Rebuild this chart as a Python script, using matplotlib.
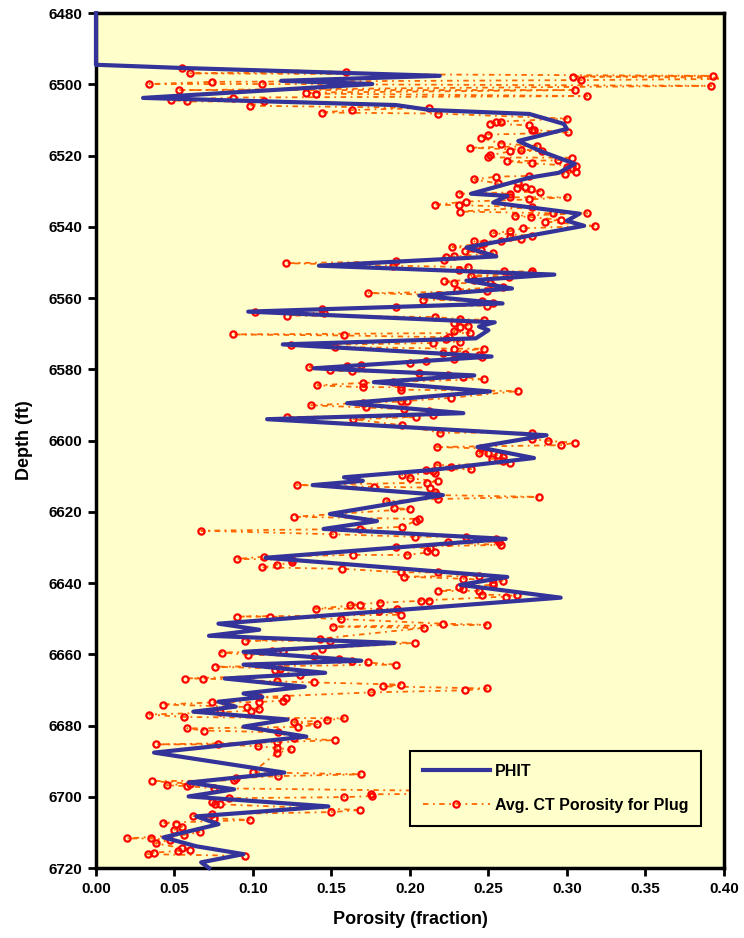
import matplotlib
matplotlib.use("Agg")
import matplotlib.pyplot as plt
import numpy as np

plt.rcParams['font.family'] = ['Liberation Sans', 'DejaVu Sans']
plt.rcParams['font.weight'] = 'bold'

# PHIT log (depth ft, porosity fraction)
phit_depth = [6480.0, 6494.5, 6495.4, 6497.6, 6499.0, 6499.9, 6503.8, 6505.8, 6507.2, 6508.3,
              6511.1, 6512.5, 6515.9, 6518.7, 6522.3, 6524.8, 6526.2, 6530.7, 6531.3, 6533.2,
              6536.3, 6538.3, 6539.7, 6542.5, 6545.8, 6548.3, 6550.9, 6553.4, 6555.1, 6557.3,
              6559.3, 6561.5, 6563.8, 6566.8, 6568.0, 6569.0, 6571.3, 6573.0, 6576.4, 6579.7,
              6581.7, 6583.6, 6586.2, 6589.5, 6592.3, 6594.0, 6598.5, 6601.8, 6604.9, 6608.3,
              6610.3, 6611.3, 6612.5, 6615.3, 6620.6, 6622.6, 6624.8, 6627.6, 6632.9, 6638.3,
              6640.5, 6644.1, 6651.4, 6653.1, 6654.8, 6656.8, 6659.3, 6661.8, 6662.9, 6665.2,
              6666.8, 6669.1, 6671.0, 6672.0, 6673.3, 6674.7, 6676.1, 6678.3, 6680.3, 6683.1,
              6687.6, 6693.2, 6696.0, 6697.9, 6699.9, 6702.7, 6705.5, 6707.7, 6711.4, 6713.9,
              6716.1, 6718.4, 6720.0]
phit_val = [0.000, 0.000, 0.055, 0.219, 0.118, 0.176, 0.030, 0.191, 0.213, 0.276,
            0.298, 0.300, 0.269, 0.283, 0.305, 0.295, 0.276, 0.239, 0.262, 0.253,
            0.308, 0.300, 0.311, 0.276, 0.236, 0.255, 0.142, 0.292, 0.236, 0.265,
            0.206, 0.259, 0.097, 0.254, 0.244, 0.250, 0.242, 0.119, 0.252, 0.139,
            0.241, 0.177, 0.251, 0.160, 0.234, 0.109, 0.287, 0.243, 0.279, 0.213,
            0.158, 0.170, 0.138, 0.221, 0.149, 0.179, 0.145, 0.261, 0.108, 0.262,
            0.232, 0.296, 0.078, 0.104, 0.072, 0.190, 0.094, 0.169, 0.094, 0.146,
            0.082, 0.133, 0.094, 0.106, 0.078, 0.089, 0.062, 0.122, 0.094, 0.134,
            0.037, 0.120, 0.059, 0.088, 0.059, 0.148, 0.064, 0.078, 0.043, 0.064,
            0.094, 0.067, 0.072]

# Avg. CT porosity of plugs
ct_depth = [6495.3, 6496.9, 6496.5, 6497.8, 6498.8, 6499.9, 6499.3, 6499.9, 6501.6, 6502.3,
            6502.6, 6501.6, 6503.3, 6504.4, 6504.8, 6503.7, 6506.0, 6504.8, 6507.9, 6507.2,
            6506.6, 6508.2, 6509.6, 6511.0, 6510.5, 6510.5, 6511.5, 6512.7, 6512.8, 6513.5,
            6514.1, 6515.0, 6516.6, 6517.8, 6518.8, 6518.3, 6517.3, 6518.7, 6519.9, 6520.5,
            6521.6, 6522.2, 6521.3, 6520.6, 6523.3, 6522.9, 6523.6, 6524.5, 6525.1, 6526.7,
            6525.9, 6527.8, 6525.7, 6527.8, 6529.1, 6528.9, 6529.5, 6530.1, 6530.7, 6530.7,
            6531.7, 6532.3, 6531.7, 6532.9, 6533.9, 6533.8, 6534.5,
            6535.7, 6536.9, 6537.3, 6538.5, 6536.2, 6538.0, 6536.2, 6539.7, 6540.4, 6541.8,
            6541.2, 6542.9, 6544.0, 6543.5, 6542.5, 6545.7, 6544.1, 6545.9, 6544.6, 6546.5,
            6546.9, 6547.4, 6548.5, 6549.2, 6548.3, 6550.2, 6549.7, 6550.9, 6552.0, 6551.3,
            6552.5, 6553.0, 6552.5, 6553.7, 6554.8, 6554.1, 6555.3, 6555.8, 6555.8, 6556.5,
            6556.9, 6557.6, 6558.1, 6558.6, 6559.1, 6560.4, 6560.9, 6561.4, 6562.1, 6563.8,
            6563.0, 6564.2, 6564.9, 6562.5, 6565.3, 6565.9, 6566.1, 6567.0, 6568.1, 6567.7,
            6569.3, 6569.8, 6570.2, 6570.5, 6571.0, 6571.6, 6572.2, 6572.6, 6573.3, 6573.7,
            6574.2, 6574.2,
            6575.4, 6575.8, 6576.1, 6576.5, 6577.2, 6577.7, 6579.4, 6579.1, 6578.9, 6578.2,
            6580.3, 6580.6, 6581.0, 6581.7, 6582.2, 6582.8, 6584.5, 6583.8, 6585.0, 6583.5,
            6585.0, 6585.7, 6586.1, 6588.0, 6590.1, 6589.4, 6590.7, 6589.0, 6589.0, 6591.2,
            6591.8, 6592.9, 6593.4, 6594.0, 6593.4, 6595.7, 6597.8, 6597.8, 6599.6, 6600.1,
            6600.6, 6601.3, 6601.8, 6602.2, 6603.6, 6603.4, 6604.1, 6604.6, 6605.2, 6605.8,
            6606.4, 6606.9, 6607.4, 6608.0, 6608.3, 6608.6, 6609.0, 6609.7, 6610.6, 6611.4,
            6611.8, 6612.5, 6613.0, 6613.2,
            6614.4, 6615.3, 6616.4, 6615.8, 6617.0, 6619.0, 6619.2, 6621.4, 6622.5, 6622.0,
            6624.2, 6625.3, 6624.8, 6626.3, 6627.0, 6627.0, 6627.6, 6628.4, 6629.3, 6628.6,
            6629.8, 6630.9, 6630.2, 6631.2, 6632.1, 6632.1, 6633.2, 6632.6, 6633.5, 6634.2,
            6634.9, 6635.6, 6636.0, 6637.0, 6637.0, 6638.2, 6638.8, 6638.0, 6639.9, 6640.5,
            6639.3, 6641.0, 6641.6, 6642.2, 6642.2, 6643.3, 6643.8, 6643.3, 6644.9, 6644.9,
            6645.5, 6646.1, 6646.1, 6647.2, 6647.2, 6647.8, 6648.9, 6649.4, 6649.4, 6650.1,
            6651.4, 6651.7, 6652.2, 6652.6,
            6656.2, 6655.6, 6656.2, 6656.8, 6658.4, 6659.5, 6660.1, 6659.2, 6659.0, 6660.6,
            6661.2, 6661.8, 6662.3, 6662.9, 6663.5, 6664.5, 6664.0, 6665.7, 6666.8, 6666.8,
            6667.6, 6667.9, 6669.0, 6668.5, 6670.7, 6670.1, 6669.6, 6672.0, 6673.4, 6673.0,
            6672.4, 6674.1, 6673.5, 6674.8, 6675.8, 6675.3, 6676.9, 6677.6, 6676.3, 6679.1,
            6680.4, 6679.7, 6678.5, 6678.0, 6680.8, 6681.4, 6681.9, 6683.6, 6684.1, 6685.3,
            6685.3, 6685.8, 6684.7, 6686.3, 6686.7,
            6687.7, 6693.1, 6694.2, 6693.7, 6695.6, 6696.8, 6697.0, 6696.3, 6695.4, 6694.8,
            6697.6, 6699.3, 6699.8, 6700.1, 6700.4, 6701.5, 6702.1, 6702.1, 6704.3, 6703.7,
            6705.4, 6704.9, 6706.0, 6706.5, 6707.3, 6707.7, 6708.4, 6709.3, 6709.9, 6710.7,
            6711.7, 6711.7, 6712.1, 6713.1, 6714.4, 6715.2, 6714.9, 6716.1, 6715.7, 6716.6,
            6500.4, 6497.6, 6498.3, 6698.9]
ct_por = [0.055, 0.060, 0.159, 0.304, 0.309, 0.034, 0.074, 0.106, 0.053, 0.134,
          0.140, 0.305, 0.313, 0.048, 0.058, 0.087, 0.098, 0.107, 0.144, 0.163,
          0.212, 0.218, 0.300, 0.251, 0.255, 0.258, 0.276, 0.278, 0.279, 0.301,
          0.250, 0.245, 0.258, 0.238, 0.264, 0.271, 0.281, 0.284, 0.251, 0.250,
          0.262, 0.278, 0.294, 0.303, 0.300, 0.306, 0.303, 0.306, 0.299, 0.241,
          0.255, 0.256, 0.276, 0.269, 0.268, 0.273, 0.277, 0.283, 0.231, 0.264,
          0.264, 0.276, 0.300, 0.236, 0.231, 0.216, 0.278,
          0.232, 0.267, 0.277, 0.286, 0.291, 0.296, 0.313, 0.318, 0.272, 0.253,
          0.264, 0.264, 0.258, 0.271, 0.278, 0.227, 0.241, 0.240, 0.247, 0.245,
          0.235, 0.253, 0.223, 0.222, 0.228, 0.121, 0.191, 0.189, 0.231, 0.237,
          0.260, 0.277, 0.278, 0.239, 0.241, 0.263, 0.222, 0.228, 0.251, 0.253,
          0.259, 0.230, 0.249, 0.173, 0.218, 0.208, 0.246, 0.253, 0.249, 0.101,
          0.144, 0.145, 0.122, 0.191, 0.216, 0.232, 0.247, 0.228, 0.232, 0.237,
          0.228, 0.238, 0.087, 0.158, 0.225, 0.223, 0.232, 0.215, 0.124, 0.152,
          0.228, 0.247,
          0.221, 0.235, 0.244, 0.246, 0.228, 0.210, 0.136, 0.160, 0.169, 0.200,
          0.149, 0.163, 0.206, 0.224, 0.234, 0.247, 0.141, 0.170, 0.170, 0.189,
          0.194, 0.194, 0.269, 0.226, 0.137, 0.170, 0.172, 0.194, 0.198, 0.196,
          0.212, 0.215, 0.122, 0.164, 0.204, 0.195, 0.219, 0.278, 0.278, 0.288,
          0.305, 0.296, 0.217, 0.245, 0.244, 0.250, 0.256, 0.259, 0.252, 0.259,
          0.264, 0.217, 0.226, 0.239, 0.210, 0.215, 0.216, 0.195, 0.200, 0.218,
          0.211, 0.128, 0.177, 0.213,
          0.216, 0.217, 0.218, 0.282, 0.185, 0.190, 0.200, 0.126, 0.204, 0.206,
          0.195, 0.067, 0.168, 0.151, 0.203, 0.236, 0.255, 0.257, 0.258, 0.224,
          0.191, 0.211, 0.213, 0.216, 0.198, 0.164, 0.090, 0.107, 0.125, 0.125,
          0.115, 0.106, 0.157, 0.194, 0.218, 0.196, 0.234, 0.244, 0.253, 0.253,
          0.259, 0.231, 0.234, 0.218, 0.244, 0.246, 0.261, 0.268, 0.207, 0.212,
          0.181, 0.162, 0.168, 0.140, 0.192, 0.180, 0.194, 0.090, 0.111, 0.156,
          0.221, 0.249, 0.151, 0.209,
          0.095, 0.143, 0.149, 0.203, 0.144, 0.080, 0.097, 0.112, 0.119, 0.139,
          0.155, 0.163, 0.173, 0.191, 0.076, 0.114, 0.117, 0.130, 0.057, 0.068,
          0.115, 0.139, 0.183, 0.194, 0.175, 0.235, 0.249, 0.104, 0.104, 0.119,
          0.121, 0.043, 0.074, 0.096, 0.099, 0.104, 0.034, 0.056, 0.079, 0.126,
          0.129, 0.141, 0.147, 0.158, 0.058, 0.069, 0.116, 0.126, 0.152, 0.038,
          0.078, 0.103, 0.115, 0.115, 0.124,
          0.115, 0.100, 0.116, 0.169, 0.036, 0.045, 0.058, 0.060, 0.088, 0.089,
          0.075, 0.175, 0.176, 0.158, 0.085, 0.074, 0.076, 0.079, 0.150, 0.168,
          0.062, 0.074, 0.075, 0.098, 0.043, 0.051, 0.055, 0.050, 0.066, 0.056,
          0.020, 0.035, 0.047, 0.038, 0.055, 0.052, 0.060, 0.033, 0.037, 0.095,
          0.392, 0.393, 0.450, 0.330]

ct_depth = np.array(ct_depth)
ct_por = np.array(ct_por)
order = np.argsort(ct_depth, kind='stable')

fig = plt.figure(figsize=(7.44, 9.38), dpi=100)
ax = fig.add_axes([0.129, 0.0746, 0.844, 0.9114])
ax.set_facecolor('#FFFFCC')

ax.plot(ct_por[order], ct_depth[order], color='#FF6600', lw=1.3,
        linestyle=(0, (3, 2.5, 1, 2.5)), marker='o', ms=4.5, mec='#FF0000',
        mfc='none', mew=1.6, zorder=2, label='Avg. CT Porosity for Plug')
ax.plot(phit_val, phit_depth, color='#333399', lw=3, solid_joinstyle='round',
        zorder=3, clip_on=False, label='PHIT')

ax.set_xlim(0, 0.40)
ax.set_ylim(6720, 6480)
ax.set_xticks(np.arange(0, 0.401, 0.05))
ax.set_xticklabels(['%.2f' % v for v in np.arange(0, 0.401, 0.05)])
ax.set_yticks(np.arange(6480, 6721, 20))
for s in ax.spines.values():
    s.set_linewidth(2.5)
ax.tick_params(width=2, length=6, labelsize=11, pad=4)
for lab in ax.get_xticklabels() + ax.get_yticklabels():
    lab.set_fontweight('bold')
ax.set_xlabel('Porosity (fraction)', fontsize=13, fontweight='bold', labelpad=11)
ax.set_ylabel('Depth (ft)', fontsize=13, fontweight='bold', labelpad=11)

h, l = ax.get_legend_handles_labels()
leg = ax.legend(h[::-1], l[::-1], loc='lower right', bbox_to_anchor=(0.976, 0.040),
                prop={'weight': 'bold', 'size': 11.5},
                fancybox=False, framealpha=1, facecolor='#FFFFCC', edgecolor='black',
                handlelength=4.2, borderpad=0.8, labelspacing=1.2, handletextpad=0.3)
leg.get_frame().set_linewidth(1.5)
leg.set_zorder(5)

fig.savefig('out.png', dpi=100)
